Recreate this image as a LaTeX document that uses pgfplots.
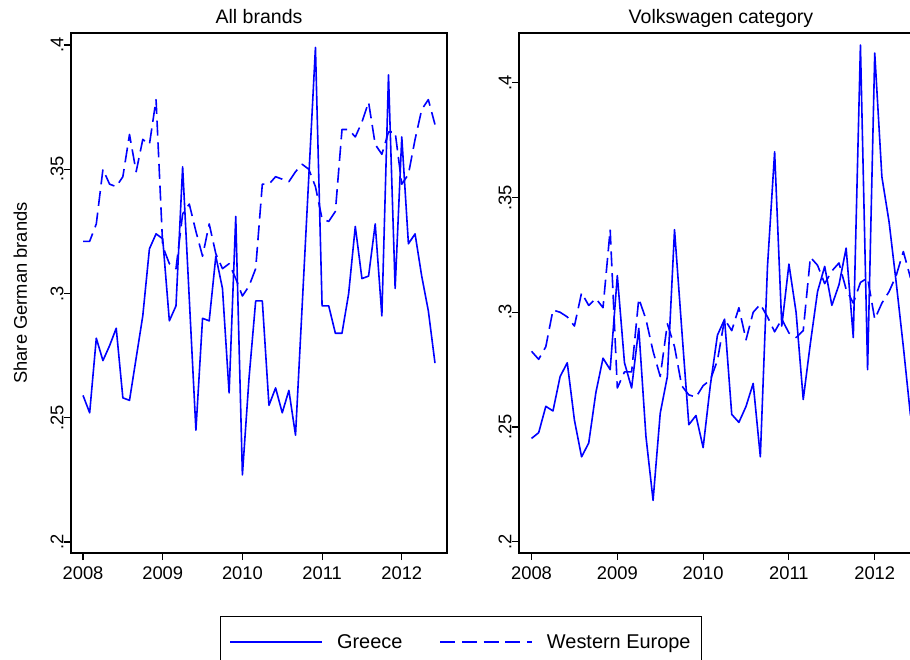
\documentclass[border=0pt]{standalone}
\usepackage{fontspec}
\setmainfont{Liberation Sans}
\usepackage{pgfplots}
\pgfplotsset{compat=1.18}
\usepackage{pgfplotstable}

\definecolor{lineblue}{RGB}{0,0,255}

% monthly shares, m = 0 is January 2008
\pgfplotstableread{
m   gr     we
0   0.259  0.321
1   0.252  0.321
2   0.282  0.328
3   0.273  0.350
4   0.279  0.344
5   0.286  0.343
6   0.258  0.347
7   0.257  0.364
8   0.274  0.349
9   0.291  0.362
10  0.318  0.360
11  0.324  0.378
12  0.322  0.319
13  0.289  0.312
14  0.295  0.310
15  0.351  0.332
16  0.298  0.336
17  0.245  0.325
18  0.290  0.315
19  0.289  0.328
20  0.315  0.316
21  0.302  0.310
22  0.260  0.312
23  0.331  0.306
24  0.227  0.299
25  0.266  0.303
26  0.297  0.310
27  0.297  0.344
28  0.255  0.344
29  0.262  0.347
30  0.252  0.346
31  0.261  0.345
32  0.243  0.349
33  0.295  0.352
34  0.347  0.350
35  0.399  0.343
36  0.295  0.330
37  0.295  0.329
38  0.284  0.333
39  0.284  0.366
40  0.300  0.366
41  0.327  0.363
42  0.306  0.369
43  0.307  0.377
44  0.328  0.360
45  0.291  0.356
46  0.388  0.365
47  0.302  0.365
48  0.363  0.344
49  0.320  0.348
50  0.324  0.362
51  0.307  0.374
52  0.293  0.378
53  0.272  0.368
}\allbrands

\pgfplotstableread{
m   gr      we
0   0.245   0.283
1   0.2475  0.2795
2   0.259   0.285
3   0.257   0.301
4   0.272   0.300
5   0.278   0.298
6   0.253   0.294
7   0.237   0.3085
8   0.243   0.303
9   0.265   0.306
10  0.280   0.302
11  0.275   0.336
12  0.316   0.267
13  0.278   0.274
14  0.267   0.274
15  0.293   0.306
16  0.246   0.297
17  0.218   0.283
18  0.256   0.272
19  0.272   0.295
20  0.336   0.285
21  0.293   0.268
22  0.251   0.264
23  0.255   0.263
24  0.241   0.268
25  0.268   0.2705
26  0.290   0.279
27  0.297   0.297
28  0.2555  0.292
29  0.252   0.302
30  0.259   0.288
31  0.269   0.300
32  0.237   0.3035
33  0.320   0.298
34  0.370   0.2915
35  0.294   0.297
36  0.321   0.291
37  0.300   0.289
38  0.262   0.292
39  0.2865  0.324
40  0.309   0.3205
41  0.320   0.3125
42  0.303   0.318
43  0.312   0.3215
44  0.328   0.310
45  0.289   0.304
46  0.4165  0.313
47  0.275   0.315
48  0.413   0.297
49  0.359   0.304
50  0.3395  0.309
51  0.313   0.316
52  0.285   0.3265
53  0.255   0.315
}\vwcategory

\pgfplotsset{
  panel/.style={
    scale only axis,
    height=520bp,
    axis line style={line width=1.1bp, black},
    tick style={line width=1.1bp, black},
    tick align=outside,
    major tick length=7bp,
    tick pos=left,
    xtick={0,12,24,36,48},
    xticklabels={2008,2009,2010,2011,2012},
    ytick={0.2,0.25,0.3,0.35,0.4},
    yticklabels={.2,.25,.3,.35,.4},
    yticklabel style={rotate=90, anchor=south},
    yticklabel shift=-3bp,
    xticklabel shift=3bp,
    ticklabel style={font=\fontsize{18.4}{20}\selectfont},
    /pgf/number format/assume math mode=true,
    title style={font=\fontsize{19.6}{22}\selectfont, at={(0.5,1)}, anchor=base, yshift=4bp},
  },
  greece/.style={lineblue, line width=1.6bp, line join=round},
  western/.style={lineblue, line width=1.6bp, line join=round, dash pattern=on 15bp off 6.7bp},
}

\begin{document}
\begin{tikzpicture}
\begin{axis}[
  panel,
  at={(71bp,107bp)}, anchor=south west,
  width=376bp,
  xmin=-1.81, xmax=54.81,
  ymin=0.19557, ymax=0.40483,
  title={All brands},
  ylabel={Share German brands},
  every axis y label/.style={at={(axis description cs:-0.135,0.5)}, rotate=90, anchor=center,
    font=\fontsize{18.4}{20}\selectfont},
  legend columns=2,
  legend style={
    at={(axis description cs:0.3963,-0.121)}, anchor=north west,
    draw=black, line width=0.9bp,
    font=\fontsize{20}{22}\selectfont,
    inner xsep=9bp, inner ysep=16bp,
    /tikz/every odd column/.append style={column sep=12bp},
    /tikz/every even column/.append style={column sep=35bp},
  },
  legend cell align=left,
  legend image code/.code={\draw[#1] (0bp,0bp) -- (92bp,0bp);},
]
  \addplot[greece] table[x=m, y=gr] {\allbrands};
  \addlegendentry{Greece}
  \addplot[western] table[x=m, y=we] {\allbrands};
  \addlegendentry{Western Europe\hspace{9bp}}
\end{axis}

\begin{axis}[
  panel,
  at={(519bp,107bp)}, anchor=south west,
  width=404bp,
  xmin=-1.75, xmax=54.75,
  ymin=0.19507, ymax=0.42175,
  title={Volkswagen category},
]
  \addplot[greece] table[x=m, y=gr] {\vwcategory};
  \addplot[western] table[x=m, y=we] {\vwcategory};
\end{axis}

\pgfresetboundingbox
\path[use as bounding box] (0bp,0bp) rectangle (910bp,660bp);
\end{tikzpicture}
\end{document}
